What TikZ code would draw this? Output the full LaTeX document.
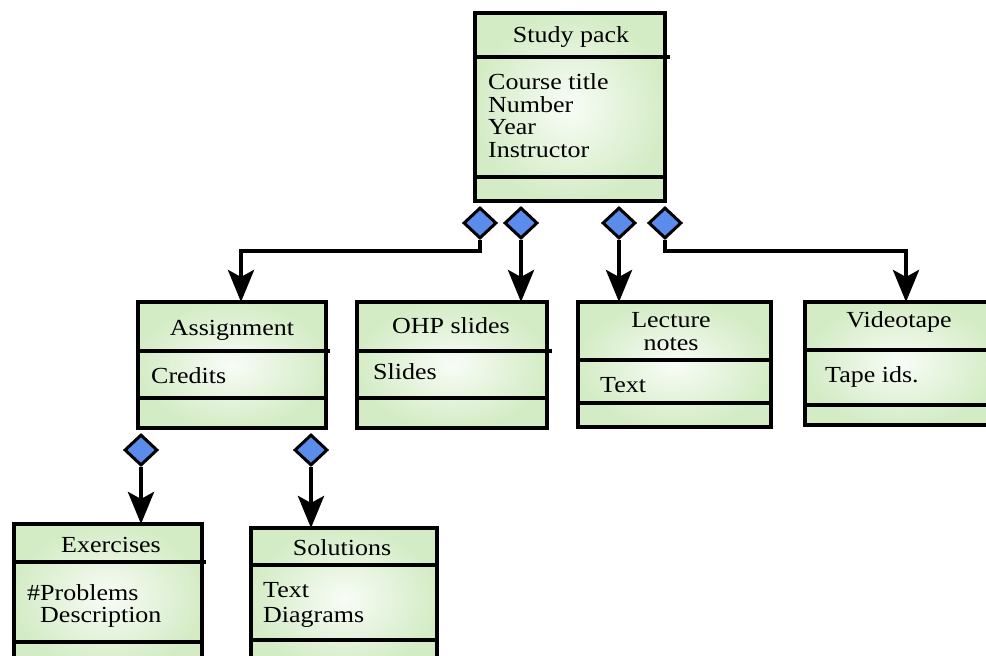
\documentclass[tikz,border=0pt]{standalone}
\usepackage{fontspec}
\setmainfont[FakeStretch=1.13]{Liberation Serif}
\usetikzlibrary{arrows.meta,shapes.geometric}

\definecolor{boxgreen}{RGB}{212,236,198}
\definecolor{boxlight}{RGB}{248,252,246}
\definecolor{diablue}{RGB}{92,140,235}

% one class box: name, x1, y1, x2, y2, first divider, second divider, end of first divider
\newcommand\classbox[8]{%
  \node[classframe, minimum width={#4-#2}, minimum height={#5-#3}]
    (#1) at ({(#2+#4)/2},{(#3+#5)/2}) {};
  \draw[rule] (#2,#6) -- (#8,#6);
  \draw[rule] (#2,#7) -- (#4,#7);
}

\begin{document}
\begin{tikzpicture}[x=1pt,y=-1pt,
  classframe/.style={draw, line width=4.5pt, inner sep=0pt, outer sep=0pt,
    shade, shading=radial, inner color=boxlight, outer color=boxgreen},
  rule/.style={line width=4.5pt},
  hdr/.style={anchor=base, inner sep=0pt, font=\fontsize{23}{25}\selectfont},
  attr/.style={anchor=base west, inner sep=0pt, font=\fontsize{23}{25}\selectfont},
  agg/.style={diamond, draw, line width=3pt, fill=diablue, inner sep=0pt,
    minimum width=33pt, minimum height=31pt, anchor=north},
  conn/.style={line width=4.5pt, -{Stealth[length=32pt,width=26pt,inset=7pt]}},
]
\clip (0,0) rectangle (986,656);
\useasboundingbox (0,0) rectangle (986,656);
\fill[white] (0,0) rectangle (986,656);

% class boxes
\classbox{study}{475}{13}{665}{201}{57}{177}{670}
\classbox{assign}{138}{302}{326}{428}{351}{398}{330}
\classbox{ohp}{357}{302}{547}{428}{351}{398}{552}
\classbox{lecture}{578}{302}{771}{427}{360}{403}{771}
\classbox{video}{805}{302}{996}{425}{350}{405}{996}
\classbox{exer}{14}{524}{202}{670}{562}{642}{206}
\classbox{solu}{251}{528}{437}{670}{565}{640}{437}

% texts
\node[hdr] (studyT) at (571,42) {Study pack};
\node[attr] (studyA1) at (488,89) {Course title};
\node[attr] (studyA2) at (488,112) {Number};
\node[attr] (studyA3) at (488,134) {Year};
\node[attr] (studyA4) at (488,157) {Instructor};

\node[hdr] (assignT) at (232,335) {Assignment};
\node[attr] (assignA) at (151,383) {Credits};

\node[hdr] (ohpT) at (451,333) {OHP slides};
\node[attr] (ohpA) at (373,379) {Slides};

\node[hdr] (lectureT1) at (671,327) {Lecture};
\node[hdr] (lectureT2) at (671,350) {notes};
\node[attr] (lectureA) at (600,392) {Text};

\node[hdr] (videoT) at (899,327) {Videotape};
\node[attr] (videoA) at (825,382) {Tape ids.};

\node[hdr] (exerT) at (111,552) {Exercises};
\node[attr] (exerA1) at (27,600) {\#Problems};
\node[attr] (exerA2) at (40,622) {Description};

\node[hdr] (soluT) at (342,555) {Solutions};
\node[attr] (soluA1) at (263,597) {Text};
\node[attr] (soluA2) at (263,622) {Diagrams};

% aggregation diamonds
\node[agg] (d1) at (480,206) {};
\node[agg] (d2) at (521,206) {};
\node[agg] (d3) at (619,206) {};
\node[agg] (d4) at (665,206) {};
\node[agg] (d5) at (141,433) {};
\node[agg] (d6) at (311,433) {};

% bend points of the routed connectors
\coordinate (j1) at (241,251);
\coordinate (j4) at (906,251);

% connectors
\draw[conn] (d1.south) |- (j1) -- (j1 |- assign.north);
\draw[conn] (d2.south) -- (d2.south |- ohp.north);
\draw[conn] (d3.south) -- (d3.south |- lecture.north);
\draw[conn] (d4.south) |- (j4) -- (j4 |- video.north);
\draw[conn] (d5.south) -- (d5.south |- exer.north);
\draw[conn] (d6.south) -- (d6.south |- solu.north);
\end{tikzpicture}
\end{document}
